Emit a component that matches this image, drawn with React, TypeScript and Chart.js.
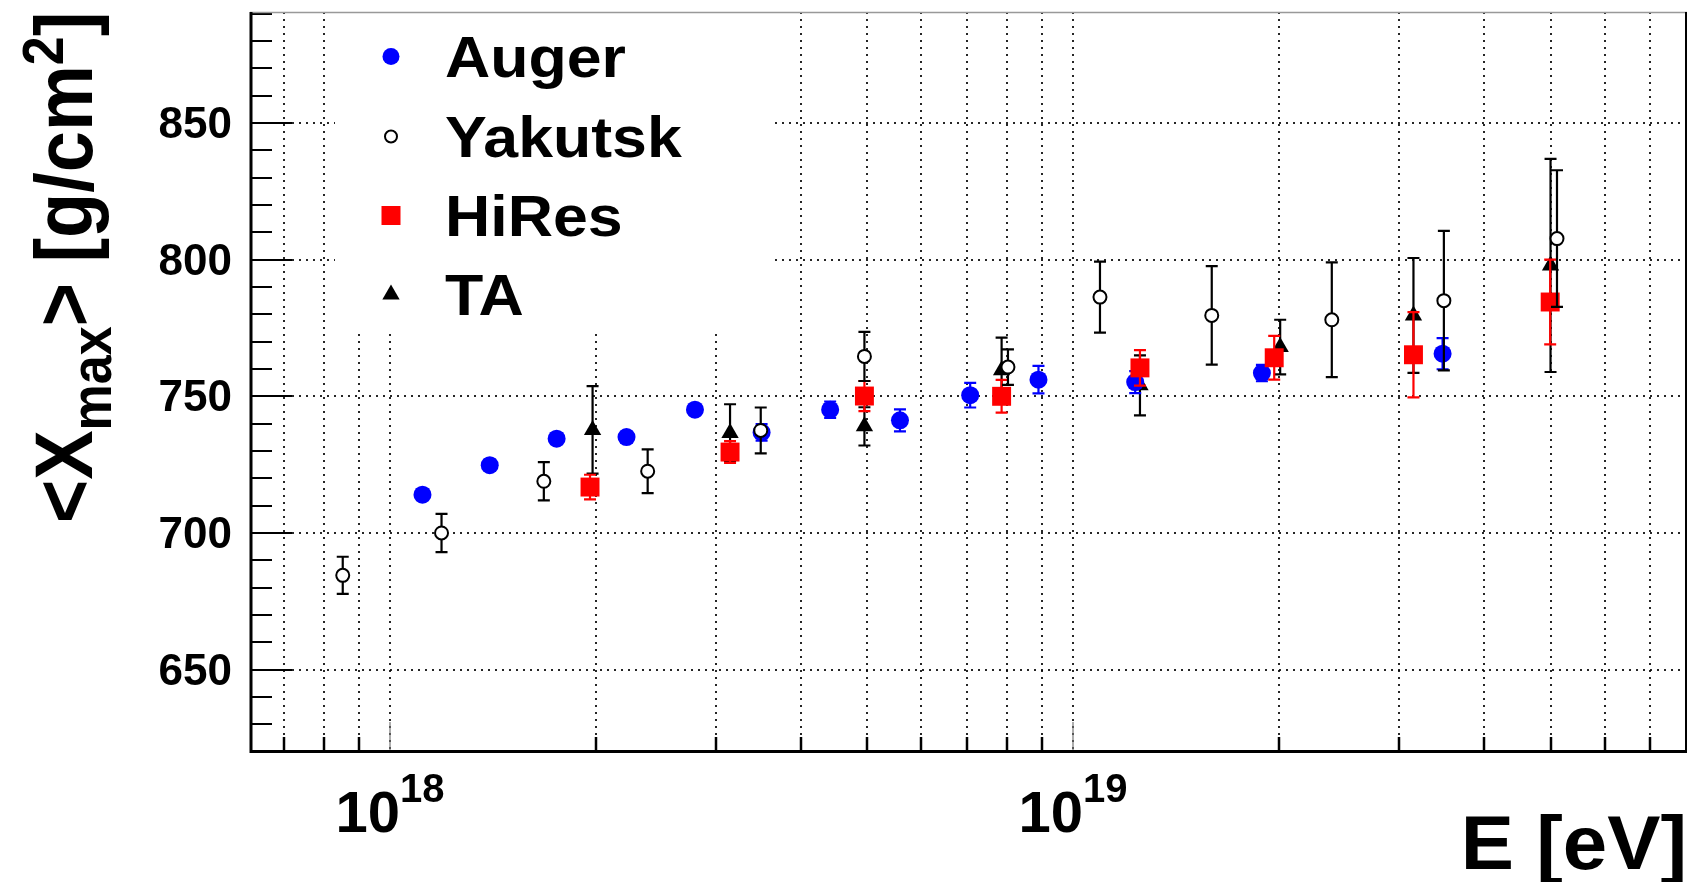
import React, { useEffect, useRef } from "react";
import { Chart, registerables } from "chart.js";

Chart.register(...registerables);

// ---------------- data (energies in eV, <Xmax> in g/cm^2) ----------------
const augerEnergy = [1.116e18, 1.4e18, 1.754e18, 2.22e18, 2.796e18, 3.5e18, 4.41e18, 5.58e18, 7.07e18, 8.9e18, 1.233e19, 1.89e19, 3.475e19];
const augerXmax = [714.0, 724.8, 734.5, 735.1, 745.1, 736.8, 745.1, 741.2, 750.4, 756.1, 755.2, 758.5, 765.6];
const augerErr = [2, 2, 2, 2, 2, 3, 3, 4, 4.5, 5, 4, 3, 5.7];

const yakutskEnergy = [8.53e17, 1.19e18, 1.68e18, 2.384e18, 3.49e18, 4.95e18, 8.03e18, 1.095e19, 1.596e19, 2.392e19, 3.49e19, 5.11e19];
const yakutskXmax = [684.5, 700.0, 718.9, 722.6, 737.5, 764.6, 760.7, 786.3, 779.6, 778.0, 785.0, 807.7];
const yakutskErr = [6.8, 7, 7, 8, 8.4, 9, 6.5, 13, 18, 21, 25.5, 25];

const hiresEnergy = [1.963e18, 3.147e18, 4.95e18, 7.86e18, 1.253e19, 1.97e19, 3.15e19, 4.994e19];
const hiresXmax = [716.8, 729.6, 750.1, 750.0, 760.4, 764.1, 765.2, 784.5];
const hiresErr = [4.5, 4, 5.5, 6, 6.5, 8, 15.6, 15.5];

const taEnergy = [1.98e18, 3.147e18, 4.95e18, 7.86e18, 1.253e19, 2.01e19, 3.15e19, 5.0e19];
const taXmax = [737.7, 736.6, 739.0, 759.5, 754.0, 768.0, 779.6, 797.9];
const taErr = [16, 10.5, 7, 12, 11, 10, 21, 39];

const seriesNames = ["Auger", "Yakutsk", "HiRes", "TA"];
const yLabelTicks = [650, 700, 750, 800, 850];
const xLabelExponents = [18, 19];
const xAxisTitle = "E [eV]";
const yTitleMainA = "<X";
const yTitleSub = "max";
const yTitleMainB = "> [g/cm";
const yTitleSup = "2";
const yTitleMainC = "]";

const X_MIN = 6.24e17;
const X_MAX = 7.92e19;
const Y_MIN = 620.6;
const Y_MAX = 890.6;

const FAMILY = '"Liberation Sans", Arial, Helvetica, sans-serif';
const bold = (s: number) => `bold ${s}px ${FAMILY}`;

function xTickValues(): number[] {
  const out: number[] = [];
  for (let n = 17; n <= 19; n++) {
    for (let k = 1; k <= 9; k++) {
      const v = k * Math.pow(10, n);
      if (v >= X_MIN && v <= X_MAX) out.push(v);
    }
  }
  return out;
}

function drawStretched(ctx: CanvasRenderingContext2D, text: string, x: number, y: number, size: number, align: string, sx: number) {
  ctx.save();
  ctx.font = bold(size);
  const w = ctx.measureText(text).width * sx;
  let x0 = x;
  if (align === "right") x0 = x - w;
  else if (align === "center") x0 = x - w / 2;
  ctx.translate(x0, y);
  ctx.scale(sx, 1);
  ctx.textAlign = "left";
  ctx.textBaseline = "alphabetic";
  ctx.fillStyle = "#000";
  ctx.fillText(text, 0, 0);
  ctx.restore();
  return w;
}

function drawMarker(ctx: CanvasRenderingContext2D, kind: string, x: number, y: number) {
  ctx.save();
  ctx.beginPath();
  if (kind === "Auger") {
    ctx.fillStyle = "#0000ff";
    ctx.arc(x, y, 8.5, 0, Math.PI * 2);
    ctx.fill();
  } else if (kind === "Yakutsk") {
    ctx.fillStyle = "#fff";
    ctx.strokeStyle = "#000";
    ctx.lineWidth = 2;
    ctx.arc(x, y, 6, 0, Math.PI * 2);
    ctx.fill();
    ctx.stroke();
  } else if (kind === "HiRes") {
    ctx.fillStyle = "#ff0000";
    ctx.fillRect(x - 9.5, y - 9.5, 19, 19);
  } else {
    ctx.fillStyle = "#000";
    const r = 10;
    ctx.moveTo(x, y - r);
    ctx.lineTo(x + r * 0.866, y + r / 2);
    ctx.lineTo(x - r * 0.866, y + r / 2);
    ctx.closePath();
    ctx.fill();
  }
  ctx.restore();
}

const errorBarPlugin = {
  id: "errorBars",
  beforeDatasetDraw(chart: any, args: any) {
    const ds = chart.data.datasets[args.index];
    const errs: number[] = ds.errors || [];
    const { ctx, scales } = chart;
    const xs = scales.x;
    const ys = scales.y;
    ctx.save();
    ctx.strokeStyle = ds.errorColor || "#000";
    ctx.lineWidth = 2.2;
    ds.data.forEach((p: any, i: number) => {
      const e = errs[i] || 0;
      const px = xs.getPixelForValue(p.x);
      const y1 = ys.getPixelForValue(p.y - e);
      const y2 = ys.getPixelForValue(p.y + e);
      ctx.beginPath();
      ctx.moveTo(px, y1);
      ctx.lineTo(px, y2);
      ctx.moveTo(px - 6, y1);
      ctx.lineTo(px + 6, y1);
      ctx.moveTo(px - 6, y2);
      ctx.lineTo(px + 6, y2);
      ctx.stroke();
    });
    ctx.restore();
  },
};

const backgroundPlugin = {
  id: "rootBackground",
  beforeDatasetsDraw(chart: any) {
    const { ctx, chartArea: a, scales } = chart;
    const xs = scales.x;
    const ys = scales.y;
    ctx.save();
    ctx.beginPath();
    ctx.rect(a.left, a.top, a.right - a.left, a.bottom - a.top);
    ctx.clip();
    ctx.strokeStyle = "rgba(0,0,0,0.85)";
    ctx.lineWidth = 2;
    ctx.setLineDash([2, 5]);
    xTickValues().forEach((v) => {
      const px = Math.round(xs.getPixelForValue(v));
      ctx.beginPath();
      ctx.moveTo(px, a.top);
      ctx.lineTo(px, a.bottom);
      ctx.stroke();
    });
    yLabelTicks.forEach((v) => {
      const py = Math.round(ys.getPixelForValue(v));
      ctx.beginPath();
      ctx.moveTo(a.left, py);
      ctx.lineTo(a.right, py);
      ctx.stroke();
    });
    ctx.setLineDash([]);
    // legend box (white, no border)
    const lx = a.left + 85;
    const ly = a.top + 1;
    ctx.fillStyle = "#fff";
    ctx.fillRect(lx, ly, 437, 317);
    const rows = [44.5, 124.5, 203.5, 282.5];
    seriesNames.forEach((name, i) => {
      const ry = a.top + rows[i];
      drawMarker(ctx, name, a.left + 141, ry);
      drawStretched(ctx, name, a.left + 195, ry + 20, 58, "left", 1.08);
    });
    ctx.restore();
  },
  afterDraw(chart: any) {
    const { ctx, chartArea: a, scales } = chart;
    const xs = scales.x;
    const ys = scales.y;
    ctx.save();
    // y ticks (inside)
    ctx.strokeStyle = "#000";
    ctx.lineWidth = 2;
    for (let v = Math.ceil(Y_MIN / 10) * 10; v <= Y_MAX; v += 10) {
      const py = Math.round(ys.getPixelForValue(v));
      const len = v % 50 === 0 ? 42 : 22;
      ctx.beginPath();
      ctx.moveTo(a.left, py);
      ctx.lineTo(a.left + len, py);
      ctx.stroke();
    }
    // x ticks (inside)
    xTickValues().forEach((v) => {
      const px = Math.round(xs.getPixelForValue(v));
      const lg = Math.log10(v);
      const decade = Math.abs(lg - Math.round(lg)) < 1e-9;
      ctx.strokeStyle = decade ? "#777" : "#000";
      ctx.lineWidth = decade ? 1.2 : 2.5;
      ctx.beginPath();
      ctx.moveTo(px, a.bottom);
      ctx.lineTo(px, a.bottom - (decade ? 28 : 13));
      ctx.stroke();
    });
    // frame
    ctx.strokeStyle = "#999";
    ctx.lineWidth = 1.5;
    ctx.beginPath();
    ctx.moveTo(a.left, a.top + 0.5);
    ctx.lineTo(a.right, a.top + 0.5);
    ctx.stroke();
    ctx.strokeStyle = "#000";
    ctx.lineWidth = 2;
    ctx.beginPath();
    ctx.moveTo(a.right - 1, a.top);
    ctx.lineTo(a.right - 1, a.bottom);
    ctx.stroke();
    ctx.lineWidth = 3;
    ctx.beginPath();
    ctx.moveTo(a.left + 1, a.top);
    ctx.lineTo(a.left + 1, a.bottom + 1.5);
    ctx.lineTo(a.right, a.bottom + 1.5);
    ctx.stroke();

    // x labels 10^n
    xLabelExponents.forEach((ex) => {
      const px = xs.getPixelForValue(Math.pow(10, ex));
      ctx.font = bold(58);
      const w10 = ctx.measureText("10").width;
      ctx.font = bold(40);
      const wEx = ctx.measureText(String(ex)).width;
      const start = px - (w10 + wEx) / 2;
      ctx.fillStyle = "#000";
      ctx.textAlign = "left";
      ctx.textBaseline = "alphabetic";
      ctx.font = bold(58);
      ctx.fillText("10", start, 832);
      ctx.font = bold(40);
      ctx.fillText(String(ex), start + w10, 802);
    });

    // x title
    drawStretched(ctx, xAxisTitle, a.right, 869, 76, "right", 1.05);

    // y title (rotated, stretched horizontally)
    ctx.save();
    ctx.translate(92, 523);
    ctx.scale(1.1, 1);
    ctx.rotate(-Math.PI / 2);
    ctx.fillStyle = "#000";
    ctx.textAlign = "left";
    ctx.textBaseline = "alphabetic";
    let u = 0;
    const part = (t: string, size: number, dv: number) => {
      ctx.font = bold(size);
      ctx.fillText(t, u, dv);
      u += ctx.measureText(t).width;
    };
    part(yTitleMainA, 74, 0);
    part(yTitleSub, 52, 17);
    part(yTitleMainB, 74, 0);
    part(yTitleSup, 52, -26);
    part(yTitleMainC, 74, 0);
    ctx.restore();

    ctx.restore();
  },
};

function toPoints(xs: number[], ys: number[]) {
  return xs.map((x, i) => ({ x, y: ys[i] }));
}

export default function App() {
  const canvasRef = useRef<HTMLCanvasElement | null>(null);

  useEffect(() => {
    const canvas = canvasRef.current;
    if (!canvas) return;
    Chart.defaults.font.family = FAMILY;
    const chart = new Chart(canvas, {
      type: "scatter",
      data: {
        datasets: [
          {
            label: seriesNames[0],
            data: toPoints(augerEnergy, augerXmax),
            errors: augerErr,
            errorColor: "#0000ff",
            pointStyle: "circle",
            pointRadius: 9,
            backgroundColor: "#0000ff",
            borderColor: "#0000ff",
            borderWidth: 0,
            order: 2,
          } as any,
          {
            label: seriesNames[1],
            data: toPoints(yakutskEnergy, yakutskXmax),
            errors: yakutskErr,
            errorColor: "#000",
            pointStyle: "circle",
            pointRadius: 6.5,
            backgroundColor: "#ffffff",
            borderColor: "#000000",
            borderWidth: 2,
            order: 0,
          } as any,
          {
            label: seriesNames[2],
            data: toPoints(hiresEnergy, hiresXmax),
            errors: hiresErr,
            errorColor: "#ff0000",
            pointStyle: "rect",
            pointRadius: 13.4,
            backgroundColor: "#ff0000",
            borderColor: "#ff0000",
            borderWidth: 0,
            order: 1,
          } as any,
          {
            label: seriesNames[3],
            data: toPoints(taEnergy, taXmax),
            errors: taErr,
            errorColor: "#000",
            pointStyle: "triangle",
            pointRadius: 10,
            backgroundColor: "#000000",
            borderColor: "#000000",
            borderWidth: 0,
            order: 3,
          } as any,
        ],
      },
      options: {
        animation: false,
        responsive: false,
        devicePixelRatio: 1,
        events: [],
        layout: { autoPadding: false, padding: { left: 0, top: 12, right: 3, bottom: 132 } },
        plugins: {
          legend: { display: false },
          tooltip: { enabled: false },
          title: { display: false },
        },
        scales: {
          x: {
            type: "logarithmic",
            min: X_MIN,
            max: X_MAX,
            display: false,
          },
          y: {
            type: "linear",
            min: Y_MIN,
            max: Y_MAX,
            afterBuildTicks: (s: any) => {
              s.ticks = yLabelTicks.map((v) => ({ value: v }));
            },
            afterFit: (s: any) => {
              s.width = 250;
              s.paddingTop = 0;
              s.paddingBottom = 0;
            },
            grid: { display: false, drawTicks: false },
            border: { display: false },
            ticks: {
              autoSkip: false,
              padding: 18,
              labelOffset: 3,
              color: "#000",
              font: { family: FAMILY, size: 44, weight: "bold" },
              callback: (v: any) => String(Math.round(Number(v))),
            },
          },
        },
      } as any,
      plugins: [errorBarPlugin, backgroundPlugin],
    });
    return () => chart.destroy();
  }, []);

  return (
    <div style={{ position: "absolute", left: 0, top: 0, width: 1690, height: 882, background: "#fff" }}>
      <canvas ref={canvasRef} width={1690} height={882} style={{ display: "block", width: 1690, height: 882 }} />
    </div>
  );
}
